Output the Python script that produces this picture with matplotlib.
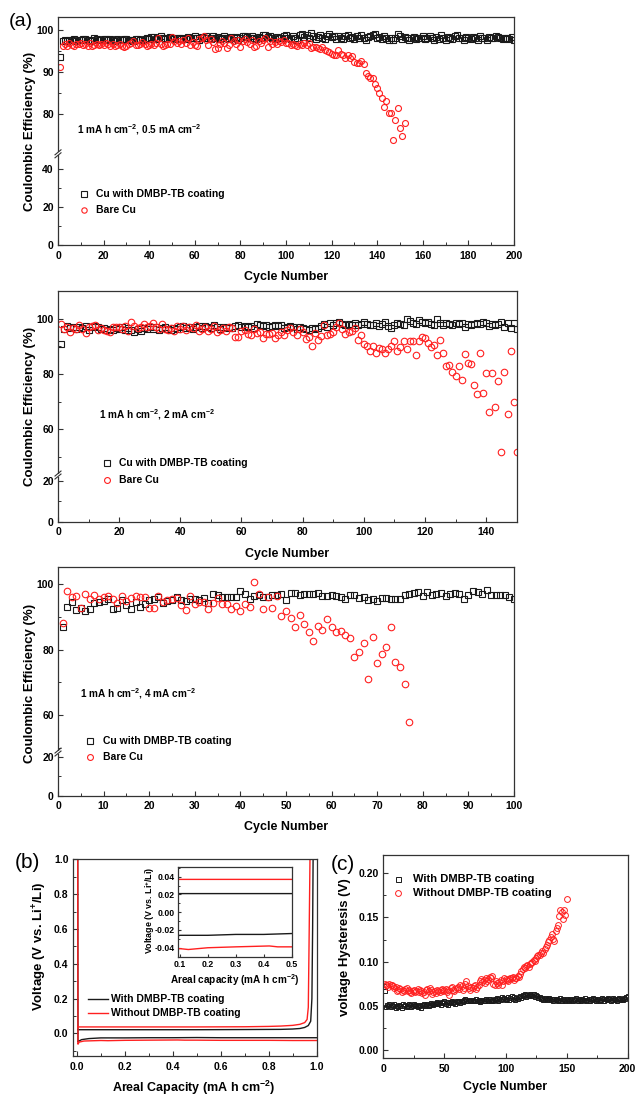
import numpy as np
import matplotlib
matplotlib.use('Agg')
import matplotlib.pyplot as plt
from matplotlib.ticker import FixedLocator, MultipleLocator, FormatStrFormatter
from matplotlib.patches import Rectangle

plt.rcParams['font.family'] = ['Liberation Sans', 'DejaVu Sans']
plt.rcParams['font.weight'] = 'bold'
plt.rcParams['mathtext.fontset'] = 'custom'
plt.rcParams['mathtext.rm'] = 'Liberation Sans:bold'
plt.rcParams['mathtext.it'] = 'Liberation Sans:bold'
plt.rcParams['mathtext.bf'] = 'Liberation Sans:bold'
plt.rcParams['mathtext.default'] = 'rm'

# ---------------- DATA ----------------
# Panel (a)-1 : 1 mA h cm-2, 0.5 mA cm-2
p1_coated = [93.5, 97.4, 97.6, 97.5, 97.7, 97.6, 97.8, 97.5, 97.7, 97.6, 97.8, 97.9, 97.6, 97.5, 97.7, 98.0, 97.8, 97.6, 97.7, 97.9,
             97.8, 97.6, 97.9, 97.7, 97.5, 97.8, 97.6, 97.7, 97.9, 97.8, 97.6, 97.7, 97.5, 97.9, 97.8, 97.6, 97.7, 97.8, 98.1, 97.9,
             98.3, 98.4, 97.9, 98.2, 98.5, 98.1, 97.8, 98.0, 98.3, 98.1, 97.9, 98.0, 98.2, 97.8, 98.1, 97.9, 98.3, 98.0, 98.2, 98.6,
             98.1, 97.7, 98.4, 98.0, 98.7, 98.2, 97.9, 98.5, 98.0, 98.3, 97.8, 98.1, 98.6, 98.2, 97.9, 98.4, 98.0, 98.3, 97.7, 98.2,
             98.5, 98.7, 98.3, 98.0, 98.6, 98.2, 97.8, 98.4, 98.1, 98.8, 98.9, 98.3, 98.6, 98.0, 97.8, 98.4, 98.2, 98.0, 98.7, 98.9,
             98.2, 97.8, 98.5, 98.1, 97.6, 98.8, 99.0, 98.3, 98.9, 98.2, 99.2, 98.6, 97.9, 98.4, 98.8, 98.1, 97.8, 98.6, 99.0, 98.3,
             98.5, 97.9, 98.7, 98.2, 97.8, 98.6, 98.9, 98.1, 98.4, 97.8, 98.6, 98.2, 98.8, 98.0, 97.7, 98.3, 98.6, 98.9, 99.0, 98.2,
             98.4, 97.8, 98.6, 98.2, 97.6, 98.0, 97.7, 98.1, 99.0, 98.5, 97.8, 98.4, 98.2, 97.6, 98.0, 98.4, 97.9, 98.2, 98.0, 98.5,
             97.8, 98.2, 98.6, 98.0, 97.6, 98.3, 97.9, 98.8, 98.2, 97.7, 98.4, 98.1, 97.8, 98.6, 98.9, 98.2, 98.0, 97.6, 98.4, 98.1,
             97.8, 98.3, 98.1, 97.6, 98.5, 98.2, 98.0, 97.7, 98.3, 98.0, 98.1, 98.6, 98.4, 98.1, 97.8, 98.2, 98.0, 97.9, 98.3, 97.7]
p1_bare = [91.2, 96.3, 96.6, 96.2, 96.9, 96.5, 96.3, 96.8, 96.6, 96.9, 96.4, 96.7, 96.3, 96.9, 96.1, 96.5, 96.8, 96.4, 96.7, 96.5,
           96.9, 96.6, 96.2, 96.7, 96.1, 96.4, 96.8, 96.3, 95.9, 96.2, 96.6, 96.9, 97.5, 96.5, 96.4, 96.8, 97.2, 96.6, 96.2, 96.4,
           96.8, 96.5, 96.9, 98.2, 96.7, 96.3, 96.5, 96.8, 96.6, 98.4, 97.5, 96.9, 97.3, 96.7, 97.6, 96.9, 98.0, 96.5, 97.2, 96.4,
           96.3, 97.8, 98.2, 98.6, 97.6, 96.5, 97.9, 97.2, 95.4, 95.7, 96.8, 97.5, 96.9, 95.8, 96.4, 98.1, 97.3, 96.8, 97.7, 96.0,
           97.4, 97.9, 97.2, 96.6, 97.6, 95.9, 96.2, 97.3, 97.0, 97.6, 98.1, 95.9, 97.4, 96.8, 97.1, 96.6, 97.5, 97.2, 97.6, 97.0,
           96.9, 96.4, 96.8, 96.5, 96.2, 96.7, 96.4, 96.9, 96.5, 97.0, 95.8, 96.0, 95.9, 95.7, 95.4, 95.9, 95.2, 95.0, 94.8, 94.3,
           94.0, 94.1, 95.3, 94.3, 94.0, 93.3, 94.0, 93.4, 93.8, 92.3, 92.1, 92.2, 92.6, 92.0,
           89.8, 89.2, 88.5, 88.7, 87.2, 86.2, 85.0, 83.8, 81.8, 83.1, 80.4, 80.4, 73.8, 78.6, 81.5, 76.7, 74.8, 77.9]

# Panel (a)-2 : 1 mA h cm-2, 2 mA cm-2
p2_coated = [91.0, 96.2, 97.4, 96.8, 97.2, 96.5, 97.0, 96.6, 97.3, 96.1, 96.9, 97.5, 97.2, 96.4, 96.8, 96.0, 96.5, 95.8, 96.6, 96.3,
             96.9, 96.1, 96.7, 95.9, 95.2, 96.4, 95.7, 96.8, 96.2, 97.1, 96.5, 96.9, 96.1, 96.7, 97.2, 96.4, 96.0, 96.8, 96.3, 96.9,
             97.3, 96.6, 97.2, 96.5, 97.0, 97.5, 96.8, 97.4, 97.2, 96.7, 97.6, 96.9, 96.4, 97.1, 96.6, 97.2, 96.8, 97.3, 97.6, 97.1,
             97.5, 96.9, 97.3, 96.6, 98.1, 97.9, 97.4, 97.6, 97.1, 97.5, 97.9, 97.3, 97.6, 96.8, 97.2, 97.5, 96.9, 96.4, 97.0, 96.6,
             96.3, 96.0, 96.6, 96.2, 96.8, 97.5, 98.2, 97.1, 98.4, 97.8, 98.6, 98.9, 98.2, 97.6, 98.3, 97.9, 98.6, 97.7, 98.2, 99.0,
             98.1, 97.6, 97.8, 98.4, 97.5, 98.2, 98.8, 97.4, 96.8, 97.9, 98.6, 98.1, 97.8, 99.8, 99.1, 98.6, 98.2, 99.5, 99.0, 98.4,
             98.8, 98.3, 97.9, 99.8, 98.5, 97.8, 98.4, 98.1, 97.6, 98.5, 98.2, 98.6, 96.9, 98.3, 97.9, 98.3, 98.6, 98.2, 98.9, 98.5,
             97.4, 98.1, 97.6, 98.2, 99.0, 97.1, 98.4, 96.8, 98.6, 96.2]
p2_bare = [98.0, 96.5, 97.0, 95.3, 96.6, 96.4, 97.8, 96.2, 95.0, 97.2, 97.5, 97.9, 96.1, 96.6, 95.8, 95.7, 95.4, 96.9, 97.1, 97.2,
           96.5, 97.5, 95.6, 98.8, 97.4, 96.8, 97.0, 98.1, 96.9, 97.5, 98.6, 97.1, 96.4, 98.0, 96.2, 95.9, 96.8, 95.5, 97.3, 96.3,
           97.5, 96.1, 97.2, 96.6, 97.8, 95.6, 96.4, 97.2, 95.7, 96.5, 97.5, 95.3, 95.9, 96.6, 95.7, 97.0, 96.8, 93.3, 93.5, 95.6,
           96.0, 94.6, 94.3, 96.5, 94.8, 95.4, 93.0, 94.6, 94.6, 94.8, 93.1, 94.0, 95.2, 94.3, 95.8, 96.7, 95.2, 94.3, 96.2, 95.1,
           92.6, 93.3, 90.2, 94.8, 92.5, 93.7, 97.6, 94.1, 94.6, 95.2, 96.9, 98.4, 96.5, 94.4, 95.1, 95.7, 96.8, 92.4, 94.0, 91.0,
           90.2, 88.3, 90.1, 87.8, 89.6, 89.1, 87.7, 89.0, 90.2, 92.1, 88.5, 89.8, 91.8, 89.0, 91.8, 91.8, 86.8, 91.8, 93.3, 93.2,
           91.4, 89.9, 90.6, 86.8, 92.2, 87.6, 82.8, 83.4, 80.7, 79.2, 83.0, 77.9, 87.2, 84.0, 83.5, 75.9, 72.6, 87.5, 73.2, 80.3,
           66.4, 80.5, 67.9, 77.6, 51.8, 80.7, 65.6, 88.3, 70.0, 51.8]

# Panel (a)-3 : 1 mA h cm-2, 4 mA cm-2
p3_coated = [87.1, 93.0, 94.5, 92.2, 92.7, 91.8, 92.4, 94.2, 94.6, 95.0, 95.4, 92.6, 92.7, 95.2, 93.8, 92.4, 94.6, 93.0, 94.0, 95.3,
             95.6, 96.1, 94.3, 95.0, 95.3, 96.2, 95.2, 95.0, 95.5, 95.5, 95.3, 95.9, 94.3, 97.2, 96.6, 96.0, 96.0, 96.0, 96.0, 97.9,
             97.2, 95.6, 96.3, 96.7, 96.0, 96.2, 96.6, 96.8, 96.9, 95.2, 97.5, 97.3, 96.6, 97.1, 97.1, 97.2, 97.3, 96.5, 96.4, 96.8,
             96.4, 96.1, 95.6, 96.8, 96.8, 95.9, 96.0, 95.2, 95.6, 94.9, 95.8, 95.8, 95.6, 95.5, 95.5, 96.8, 97.1, 97.3, 97.6, 96.5,
             97.6, 96.8, 97.0, 97.4, 96.5, 97.1, 97.3, 97.0, 95.5, 96.8, 98.1, 97.6, 97.0, 98.4, 96.8, 96.7, 96.8, 96.6, 96.2, 95.5]
p3_bare = [88.1, 98.1, 96.0, 96.4, 92.7, 97.0, 95.4, 96.8, 95.6, 96.2, 96.4, 95.5, 94.4, 96.4, 95.0, 95.7, 96.5, 96.2, 96.0, 92.7,
           92.7, 96.4, 94.7, 95.2, 95.4, 95.9, 93.7, 92.2, 96.4, 93.9, 94.5, 94.6, 92.6, 94.2, 95.7, 94.0, 94.0, 92.6, 93.4, 91.9,
           93.9, 93.2, 100.6, 97.1, 92.4, 96.2, 92.7, 96.5, 90.2, 92.0, 89.8, 86.8, 90.6, 87.9, 85.3, 82.8, 87.2, 85.9, 89.3, 87.1,
           85.5, 85.7, 84.6, 83.6, 77.7, 79.2, 82.0, 70.9, 83.8, 76.0, 78.8, 80.8, 87.1, 76.1, 74.7, 69.5, 57.9]

# Panel (b): voltage profiles (areal capacity, voltage)
b_dis_black_x = [0.004, 0.005, 0.008, 0.02, 0.05, 0.1, 0.2, 0.3, 0.4, 0.5, 0.6, 0.7, 0.8, 0.9, 1.0]
b_dis_black_v = [1.0, -0.050, -0.045, -0.036, -0.030, -0.026, -0.026, -0.025, -0.025, -0.024, -0.025, -0.025, -0.025, -0.025, -0.025]
b_dis_red_x = [0.004, 0.005, 0.01, 0.03, 0.1, 0.13, 0.2, 0.3, 0.42, 0.45, 0.5, 0.6, 0.7, 0.8, 0.9, 1.0]
b_dis_red_v = [1.0, -0.062, -0.050, -0.044, -0.041, -0.042, -0.040, -0.039, -0.038, -0.039, -0.039, -0.040, -0.040, -0.040, -0.041, -0.041]
b_chg_black_x = [0.004, 0.01, 0.1, 0.3, 0.5, 0.7, 0.85, 0.9, 0.93, 0.95, 0.965, 0.975, 0.98, 0.983, 0.985]
b_chg_black_v = [0.022, 0.021, 0.021, 0.021, 0.021, 0.022, 0.023, 0.025, 0.028, 0.034, 0.045, 0.07, 0.2, 0.6, 1.0]
b_chg_red_x = [0.004, 0.01, 0.1, 0.3, 0.5, 0.7, 0.8, 0.85, 0.9, 0.93, 0.95, 0.96, 0.965, 0.968, 0.972]
b_chg_red_v = [0.037, 0.037, 0.037, 0.037, 0.037, 0.038, 0.040, 0.042, 0.046, 0.052, 0.062, 0.08, 0.15, 0.5, 1.0]

# Panel (c): voltage hysteresis
c_with = [0.067, 0.049, 0.051, 0.050, 0.052, 0.049, 0.051, 0.050, 0.052, 0.048, 0.050, 0.049, 0.051, 0.050, 0.048, 0.052, 0.050, 0.051, 0.049, 0.050,
          0.052, 0.051, 0.049, 0.050, 0.052, 0.051, 0.050, 0.049, 0.051, 0.050, 0.048, 0.051, 0.052, 0.050, 0.051, 0.052, 0.050, 0.051, 0.053, 0.052,
          0.051, 0.052, 0.053, 0.054, 0.052, 0.053, 0.051, 0.054, 0.053, 0.055, 0.052, 0.054, 0.051, 0.053, 0.054, 0.055, 0.053, 0.054, 0.052, 0.055,
          0.054, 0.055, 0.053, 0.056, 0.054, 0.057, 0.058, 0.055, 0.056, 0.057, 0.055, 0.056, 0.057, 0.055, 0.056, 0.058, 0.055, 0.057, 0.054, 0.056,
          0.057, 0.055, 0.056, 0.058, 0.057, 0.055, 0.058, 0.056, 0.057, 0.055, 0.058, 0.057, 0.059, 0.056, 0.058, 0.057, 0.060, 0.058, 0.059, 0.057,
          0.058, 0.060, 0.057, 0.059, 0.061, 0.058, 0.060, 0.057, 0.059, 0.058, 0.060, 0.061, 0.059, 0.062, 0.061, 0.063, 0.060, 0.062, 0.061, 0.063,
          0.062, 0.061, 0.063, 0.060, 0.062, 0.061, 0.059, 0.060, 0.058, 0.059, 0.057, 0.058, 0.059, 0.057, 0.058, 0.059, 0.057, 0.058, 0.056, 0.058,
          0.057, 0.058, 0.056, 0.057, 0.059, 0.056, 0.058, 0.057, 0.056, 0.058, 0.057, 0.055, 0.058, 0.057, 0.056, 0.058, 0.057, 0.059, 0.056, 0.058,
          0.057, 0.056, 0.058, 0.057, 0.059, 0.056, 0.057, 0.058, 0.056, 0.058, 0.057, 0.059, 0.058, 0.056, 0.057, 0.058, 0.056, 0.057, 0.059, 0.058,
          0.056, 0.058, 0.057, 0.059, 0.058, 0.056, 0.057, 0.059, 0.058, 0.057, 0.056, 0.058, 0.059, 0.057, 0.058, 0.057, 0.059, 0.058, 0.060, 0.061]
c_without = [0.075, 0.073, 0.074, 0.071, 0.075, 0.073, 0.074, 0.072, 0.070, 0.071,
             0.067, 0.068, 0.070, 0.069, 0.066, 0.068, 0.067, 0.069, 0.070, 0.067,
             0.068, 0.066, 0.065, 0.067, 0.068, 0.066, 0.067, 0.069, 0.066, 0.068,
             0.067, 0.065, 0.066, 0.062, 0.068, 0.069, 0.067, 0.070, 0.068, 0.063,
             0.066, 0.067, 0.065, 0.068, 0.067, 0.066, 0.068, 0.069, 0.067, 0.068,
             0.069, 0.066, 0.068, 0.062, 0.070, 0.071, 0.068, 0.067, 0.069, 0.070,
             0.071, 0.069, 0.073, 0.072, 0.068, 0.070, 0.075, 0.078, 0.072, 0.070,
             0.068, 0.071, 0.070, 0.072, 0.074, 0.069, 0.071, 0.073, 0.078, 0.080,
             0.077, 0.079, 0.076, 0.081, 0.078, 0.080, 0.083, 0.082, 0.084, 0.075,
             0.073, 0.078, 0.076, 0.074, 0.077, 0.079, 0.073, 0.078, 0.081, 0.080,
             0.079, 0.078, 0.080, 0.082, 0.081, 0.083, 0.079, 0.082, 0.081, 0.084,
             0.083, 0.086, 0.089, 0.092, 0.094, 0.093, 0.095, 0.096, 0.094, 0.097,
             0.098, 0.100, 0.102, 0.101, 0.104, 0.106, 0.108, 0.107, 0.110, 0.112,
             0.110, 0.114, 0.117, 0.119, 0.122, 0.125, 0.128, 0.131, 0.126, 0.123,
             0.135, 0.138, 0.141, 0.152, 0.159, 0.156, 0.148, 0.159, 0.153, 0.171]

label_coated = "Cu with DMBP-TB coating"
label_bare = "Bare Cu"
label_with = "With DMBP-TB coating"
label_without = "Without DMBP-TB coating"

# ---------------- STYLE ----------------
W, H = 643, 1095
BLK = '#1a1a1a'
RED = '#ff2020'
SPINE = '#333333'
TICKFS = 7.5

fig = plt.figure(figsize=(W / 100, H / 100), dpi=100)
fig.patch.set_facecolor('white')


def add_ax(l, r, t, b):
    return fig.add_axes([l / W, 1 - b / H, (r - l) / W, (b - t) / H])


def px2ax(ax, xp, yp):
    bb = ax.get_position()
    return ((xp / W - bb.x0) / bb.width, ((1 - yp / H) - bb.y0) / bb.height)


def style_ax(ax, fs=TICKFS):
    for s in ax.spines.values():
        s.set_color(SPINE)
        s.set_linewidth(0.9)
    ax.tick_params(which='both', direction='in', top=False, right=False,
                   colors=SPINE, labelcolor='black', labelsize=fs)
    ax.tick_params(which='major', length=3.5, width=0.8)
    ax.tick_params(which='minor', length=2, width=0.7)
    ax.tick_params(axis='y', pad=3)
    ax.tick_params(axis='x', pad=4)


def broken_scale(ax, lo_top, hi_bot, lo_slope, hi_slope):
    v1 = lo_top * lo_slope
    xp = np.array([-1e4, 0.0, lo_top, hi_bot, 1e4])
    fp = np.array([-1e4 * lo_slope, 0.0, v1, v1 + 0.001, v1 + 0.001 + (1e4 - hi_bot) * hi_slope])

    def fwd(y):
        y = np.asarray(y, dtype=float)
        return np.interp(y.ravel(), xp, fp).reshape(y.shape)

    def inv(v):
        v = np.asarray(v, dtype=float)
        return np.interp(v.ravel(), fp, xp).reshape(v.shape)

    ax.set_yscale('function', functions=(fwd, inv))
    return fwd


def add_break(ax, fwd, lo_top, ylim):
    frac = (fwd(lo_top) - fwd(ylim[0])) / (fwd(ylim[1]) - fwd(ylim[0]))
    bb = ax.get_position()
    wpx, hpx = bb.width * W, bb.height * H
    gap = 3.0 / hpx
    ax.add_patch(Rectangle((-2.5 / wpx, frac - gap / 2), 5 / wpx, gap, transform=ax.transAxes,
                           facecolor='white', edgecolor='none', clip_on=False, zorder=5))
    dx, dy = 3.0 / wpx, 2.5 / hpx
    for off in (-gap / 2, gap / 2):
        ax.plot([-dx, dx], [frac + off - dy, frac + off + dy], color=SPINE, lw=0.8,
                transform=ax.transAxes, clip_on=False, zorder=6)


def ce_panel(box, coated, bare, xlim, xmaj, xmin, brk, ylim, yticks, yminor,
             note, note_px, leg_px, ylab_y, xlab_y, msq, mci):
    ax = add_ax(*box)
    style_ax(ax)
    fwd = broken_scale(ax, *brk)
    xc = np.arange(1, len(coated) + 1)
    xb = np.arange(1, len(bare) + 1)
    ax.plot(xc, coated, ls='none', marker='s', ms=msq, mfc='none', mec=BLK, mew=0.8, label=label_coated)
    ax.plot(xb, bare, ls='none', marker='o', ms=mci, mfc='none', mec=RED, mew=0.8, label=label_bare)
    ax.set_xlim(*xlim)
    ax.set_ylim(*ylim)
    ax.xaxis.set_major_locator(MultipleLocator(xmaj))
    ax.xaxis.set_minor_locator(MultipleLocator(xmin))
    ax.yaxis.set_major_locator(FixedLocator(yticks))
    ax.yaxis.set_minor_locator(FixedLocator(yminor))
    ax.yaxis.set_major_formatter(FormatStrFormatter('%d'))
    ax.xaxis.set_major_formatter(FormatStrFormatter('%d'))
    add_break(ax, fwd, brk[0], ylim)
    ax.set_ylabel('Coulombic Efficiency (%)', fontsize=9.5, fontweight='bold', va='center')
    ax.yaxis.set_label_coords(*px2ax(ax, 30, ylab_y))
    ax.set_xlabel('Cycle Number', fontsize=9, fontweight='bold', va='center')
    ax.xaxis.set_label_coords(*px2ax(ax, (box[0] + box[1]) / 2, xlab_y))
    nx, ny = px2ax(ax, *note_px)
    ax.text(nx, ny, note, transform=ax.transAxes, fontsize=7.2, fontweight='bold', ha='left', va='center')
    mx, tx, r1, r2 = leg_px
    for (ry, mk, col, ms, lab) in ((r1, 's', BLK, msq, label_coated), (r2, 'o', RED, mci, label_bare)):
        ax_x, ax_y = px2ax(ax, mx, ry)
        ax.plot([ax_x], [ax_y], transform=ax.transAxes, ls='none', marker=mk, ms=ms * 0.9,
                mfc='none', mec=col, mew=0.8, clip_on=False)
        t_x, t_y = px2ax(ax, tx, ry)
        ax.text(t_x, t_y, lab, transform=ax.transAxes, fontsize=7.5, fontweight='bold', ha='left', va='center')
    return ax


ax1 = ce_panel((58, 514, 17, 245), p1_coated, p1_bare, (0, 200), 20, 10,
               (48.0, 70.6, 1.9, 4.21), (0, 103.1), [0, 20, 40, 80, 90, 100], [10, 30, 85, 95],
               r'1 mA h cm$^{-2}$, 0.5 mA cm$^{-2}$', (77, 130), (84, 96, 194, 210), 131, 277, 4.7, 4.3)
ax2 = ce_panel((58, 517, 291, 521.7), p2_coated, p2_bare, (0, 150.1), 20, 10,
               (23.0, 43.4, 2.03, 2.76), (0, 110.1), [0, 20, 60, 80, 100], [10, 50, 70, 90],
               r'1 mA h cm$^{-2}$, 2 mA cm$^{-2}$', (99, 415), (106.7, 119, 463.3, 480), 406, 554, 5.0, 4.7)
ax3 = ce_panel((58, 514, 566.7, 795.7), p3_coated, p3_bare, (0, 100), 10, 5,
               (22.4, 48.7, 1.95, 3.27), (0, 105.4), [0, 20, 60, 80, 100], [10, 50, 70, 90],
               r'1 mA h cm$^{-2}$, 4 mA cm$^{-2}$', (80, 693.3), (90, 103.3, 741, 757), 683, 827.3, 5.0, 4.7)

# ---------------- Panel (b) ----------------
axb = add_ax(72.7, 316.7, 859.3, 1056)
style_ax(axb)
axb.plot(b_dis_black_x, b_dis_black_v, color=BLK, lw=1.0)
axb.plot(b_chg_black_x, b_chg_black_v, color=BLK, lw=1.0, label=label_with)
axb.plot(b_dis_red_x, b_dis_red_v, color=RED, lw=1.0)
axb.plot(b_chg_red_x, b_chg_red_v, color=RED, lw=1.0, label=label_without)
axb.set_xlim(-0.017, 1.0)
axb.set_ylim(-0.13, 1.0)
axb.xaxis.set_major_locator(MultipleLocator(0.2))
axb.xaxis.set_minor_locator(MultipleLocator(0.1))
axb.yaxis.set_major_locator(MultipleLocator(0.2))
axb.yaxis.set_minor_locator(MultipleLocator(0.1))
axb.xaxis.set_major_formatter(FormatStrFormatter('%.1f'))
axb.yaxis.set_major_formatter(FormatStrFormatter('%.1f'))
axb.set_ylabel(r'Voltage (V vs. Li$^{+}$/Li)', fontsize=9.5, fontweight='bold', va='center')
axb.yaxis.set_label_coords(*px2ax(axb, 40, 946.7))
axb.set_xlabel(r'Areal Capacity (mA h cm$^{-2}$)', fontsize=9, fontweight='bold', va='center')
axb.xaxis.set_label_coords(*px2ax(axb, 194, 1088))
for (ry, col, lab) in ((999, BLK, label_with), (1013, RED, label_without)):
    x0, yy = px2ax(axb, 88, ry)
    x1, _ = px2ax(axb, 108, ry)
    axb.plot([x0, x1], [yy, yy], color=col, lw=1.0, transform=axb.transAxes, clip_on=False)
    tx, ty = px2ax(axb, 111, ry)
    axb.text(tx, ty, lab, transform=axb.transAxes, fontsize=7.5, fontweight='bold', ha='left', va='center')

# inset
axi = add_ax(177.7, 291.7, 866.7, 956.7)
style_ax(axi, fs=6.3)
axi.tick_params(which='major', length=2.5)
axi.tick_params(which='minor', length=1.5)
axi.tick_params(axis='x', pad=2.5)
axi.tick_params(axis='y', pad=2)
axi.plot(b_dis_black_x, b_dis_black_v, color=BLK, lw=1.0)
axi.plot(b_chg_black_x, b_chg_black_v, color=BLK, lw=1.0)
axi.plot(b_dis_red_x, b_dis_red_v, color=RED, lw=1.0)
axi.plot(b_chg_red_x, b_chg_red_v, color=RED, lw=1.0)
axi.set_xlim(0.092, 0.5)
axi.set_ylim(-0.0501, 0.0513)
axi.xaxis.set_major_locator(MultipleLocator(0.1))
axi.yaxis.set_major_locator(MultipleLocator(0.02))
axi.yaxis.set_minor_locator(MultipleLocator(0.01))
axi.xaxis.set_major_formatter(FormatStrFormatter('%.1f'))
axi.yaxis.set_major_formatter(FormatStrFormatter('%.2f'))
axi.set_ylabel(r'Voltage (V vs. Li$^{+}$/Li)', fontsize=6.4, fontweight='bold', va='center')
axi.yaxis.set_label_coords(*px2ax(axi, 150, 910))
axi.set_xlabel(r'Areal capacity (mA h cm$^{-2}$)', fontsize=7.2, fontweight='bold', va='center')
axi.xaxis.set_label_coords(*px2ax(axi, 234.7, 980))

# ---------------- Panel (c) ----------------
axc = add_ax(383.3, 627.7, 855, 1058.3)
style_ax(axc)
axc.plot(np.arange(1, len(c_with) + 1), c_with, ls='none', marker='s', ms=3.4, mfc='none', mec=BLK, mew=0.7, label=label_with)
axc.plot(np.arange(1, len(c_without) + 1), c_without, ls='none', marker='o', ms=4.2, mfc='none', mec=RED, mew=0.7, label=label_without)
axc.set_xlim(0, 200)
axc.set_ylim(-0.0094, 0.2207)
axc.xaxis.set_major_locator(MultipleLocator(50))
axc.xaxis.set_minor_locator(MultipleLocator(25))
axc.yaxis.set_major_locator(MultipleLocator(0.05))
axc.yaxis.set_minor_locator(MultipleLocator(0.025))
axc.yaxis.set_major_formatter(FormatStrFormatter('%.2f'))
axc.xaxis.set_major_formatter(FormatStrFormatter('%d'))
axc.set_ylabel('voltage Hysteresis (V)', fontsize=9.5, fontweight='bold', va='center')
axc.yaxis.set_label_coords(*px2ax(axc, 345, 947.5))
axc.set_xlabel('Cycle Number', fontsize=9, fontweight='bold', va='center')
axc.xaxis.set_label_coords(*px2ax(axc, 505.5, 1087))
for (ry, mk, col, ms, lab) in ((879, 's', BLK, 3.6, label_with), (893, 'o', RED, 4.2, label_without)):
    mx, my = px2ax(axc, 398, ry)
    axc.plot([mx], [my], transform=axc.transAxes, ls='none', marker=mk, ms=ms, mfc='none', mec=col, mew=0.7, clip_on=False)
    tx, ty = px2ax(axc, 413, ry)
    axc.text(tx, ty, lab, transform=axc.transAxes, fontsize=8, fontweight='bold', ha='left', va='center')

# panel letters
fig.text(21 / W, 1 - 22 / H, '(a)', fontsize=14, fontweight='normal', ha='center', va='center')
fig.text(27 / W, 1 - 862 / H, '(b)', fontsize=15, fontweight='normal', ha='center', va='center')
fig.text(343 / W, 1 - 864 / H, '(c)', fontsize=15, fontweight='normal', ha='center', va='center')

fig.savefig('out.png', dpi=100, facecolor='white')
